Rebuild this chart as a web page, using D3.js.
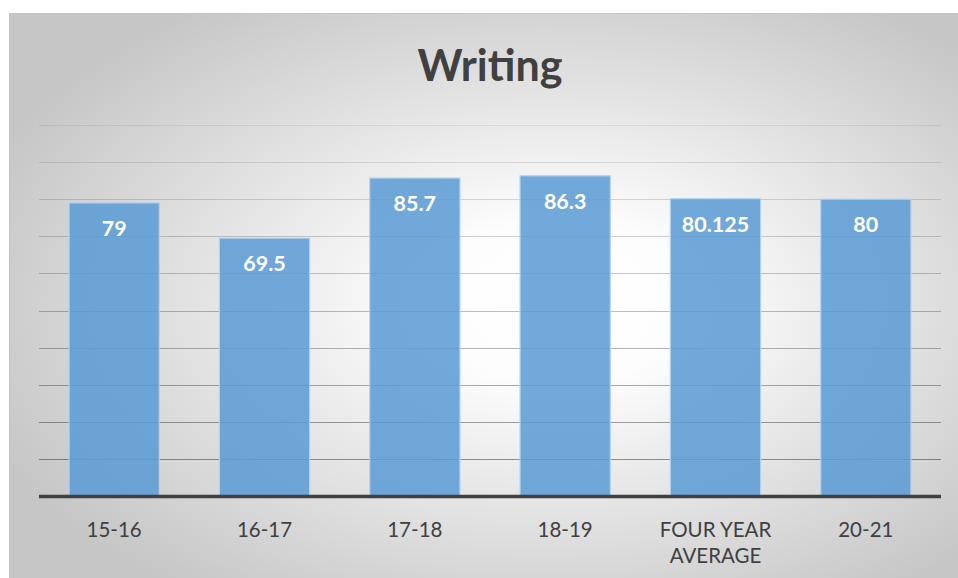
<!DOCTYPE html>
<html>
<head>
<meta charset="utf-8">
<script src="https://cdn.jsdelivr.net/npm/d3@7"></script>
<style>
  html, body { margin: 0; padding: 0; background: #ffffff; }
  svg { display: block; }
</style>
</head>
<body>
<svg id="chart" width="958" height="578"></svg>
<script>
// Writing scores by school year
const categories = ["15-16", "16-17", "17-18", "18-19", "FOUR YEAR AVERAGE", "20-21"];
const values = [79, 69.5, 85.7, 86.3, 80.125, 80];
const valueLabels = ["79", "69.5", "85.7", "86.3", "80.125", "80"];
const categoryLines = [["15-16"], ["16-17"], ["17-18"], ["18-19"], ["FOUR YEAR", "AVERAGE"], ["20-21"]];
const gridTicks = [10, 20, 30, 40, 50, 60, 70, 80, 90, 100];
const title = "Writing";

const W = 958, H = 578;
const svg = d3.select("#chart");
const font = "Lato, 'Open Sans', sans-serif";

// chart background: radial light-grey gradient
const defs = svg.append("defs");
const grad = defs.append("radialGradient")
  .attr("id", "bg")
  .attr("cx", "0.55").attr("cy", "0.5").attr("r", "0.62")
  .attr("fx", "0.58").attr("fy", "0.5");
grad.append("stop").attr("offset", "0").attr("stop-color", "#ffffff");
grad.append("stop").attr("offset", "0.22").attr("stop-color", "#fdfdfd");
grad.append("stop").attr("offset", "1").attr("stop-color", "#c6c6c6");

svg.append("rect")
  .attr("x", 9.5).attr("y", 13.5)
  .attr("width", W).attr("height", H)
  .attr("fill", "url(#bg)")
  .attr("stroke", "#c4c4c4").attr("stroke-width", 1);

const plot = { left: 39, right: 941, top: 125, bottom: 496 };

const x = d3.scaleBand()
  .domain(categories)
  .range([plot.left, plot.right])
  .paddingInner(0.4)
  .paddingOuter(0.2);

const y = d3.scaleLinear()
  .domain([0, 100])
  .range([plot.bottom, plot.top]);

// gridlines fade out toward the top of the plot
const gridOpacity = d3.scaleLinear().domain([10, 100]).range([0.4, 0.07]);

svg.append("g")
  .selectAll("line")
  .data(gridTicks)
  .join("line")
  .attr("x1", plot.left).attr("x2", plot.right)
  .attr("y1", d => Math.round(y(d)) + 0.5)
  .attr("y2", d => Math.round(y(d)) + 0.5)
  .attr("stroke", "#000").attr("stroke-opacity", d => gridOpacity(d))
  .attr("stroke-width", 1);

// bars
svg.append("g")
  .selectAll("rect")
  .data(values)
  .join("rect")
  .attr("x", (d, i) => x(categories[i]))
  .attr("y", d => y(d))
  .attr("width", x.bandwidth())
  .attr("height", d => plot.bottom - y(d))
  .attr("fill", "#5b9bd5").attr("fill-opacity", 0.86)
  .attr("stroke", "#b4d0ee").attr("stroke-width", 1.2);

// value labels inside bar tops
svg.append("g")
  .selectAll("text")
  .data(values)
  .join("text")
  .attr("x", (d, i) => x(categories[i]) + x.bandwidth() / 2)
  .attr("y", d => y(d) + 33)
  .attr("text-anchor", "middle")
  .attr("font-family", font)
  .attr("font-weight", "bold")
  .attr("font-size", 21.5)
  .attr("fill", "#ffffff")
  .text((d, i) => valueLabels[i]);

// category axis line
svg.append("line")
  .attr("x1", plot.left).attr("x2", plot.right)
  .attr("y1", plot.bottom + 0.5).attr("y2", plot.bottom + 0.5)
  .attr("stroke", "#404040").attr("stroke-width", 3.5);

// category labels
const catG = svg.append("g");
categoryLines.forEach((lines, i) => {
  const t = catG.append("text")
    .attr("x", x(categories[i]) + x.bandwidth() / 2)
    .attr("y", 537)
    .attr("text-anchor", "middle")
    .attr("font-family", font)
    .attr("font-size", 20.5)
    .attr("fill", "#404040");
  lines.forEach((ln, j) => {
    t.append("tspan")
      .attr("x", x(categories[i]) + x.bandwidth() / 2)
      .attr("dy", j === 0 ? 0 : 26)
      .text(ln);
  });
});

// title
svg.append("text")
  .attr("x", 490)
  .attr("y", 81)
  .attr("text-anchor", "middle")
  .attr("font-family", font)
  .attr("font-weight", "bold")
  .attr("font-size", 43)
  .attr("fill", "#404040")
  .text(title);
</script>
</body>
</html>
